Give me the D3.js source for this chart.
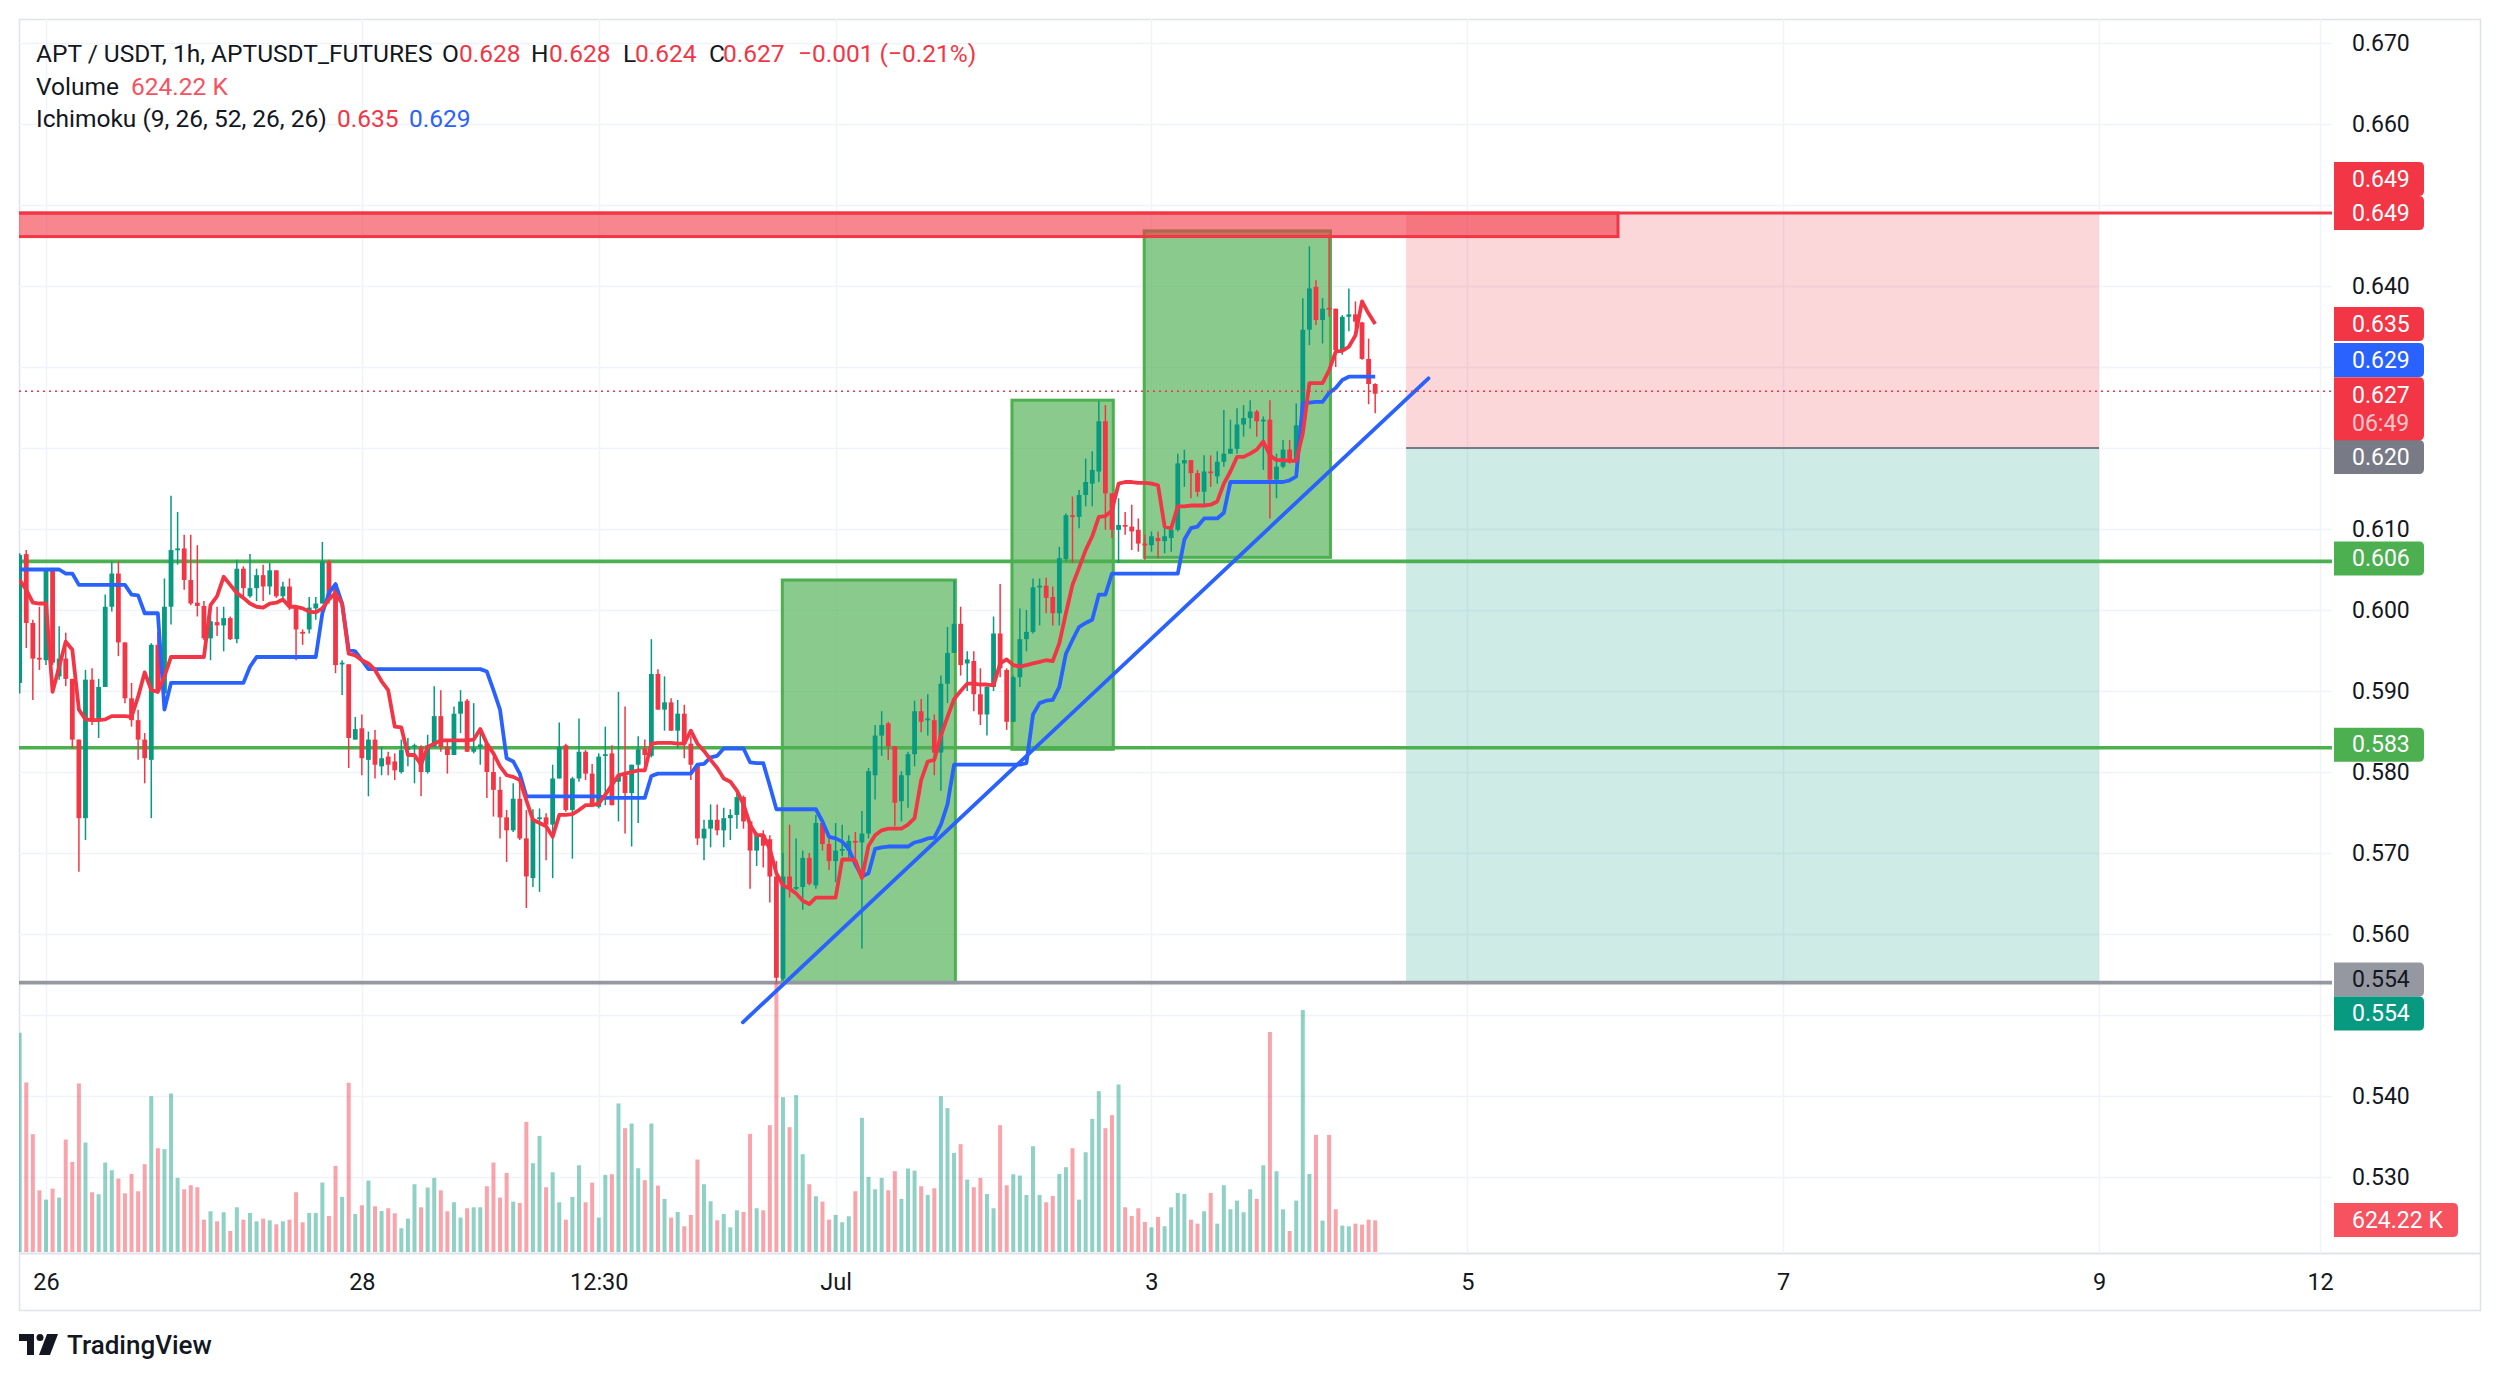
<!DOCTYPE html>
<html><head><meta charset="utf-8">
<script src="https://cdn.jsdelivr.net/npm/d3@7"></script>
<style>
body{margin:0;background:#fff}
svg{display:block}
text{font-family:Roboto,"Noto Sans",sans-serif}
</style>
</head><body>
<svg id="c" width="2500" height="1380"></svg>
<script>
// ---------------- DATA ----------------
// hourly bars, first bar = Jun 25 20:00 (hour -4 relative to Jun 26 00:00)
const firstBarHour = -4;
const opens = [
.5910,.6069,.5984,.5941,.5938,
.6051,.5918,.5940,.5915,.5840,.5743,.5914,.5864,.5905,.6004,
.6045,.5960,.5891,.5864,.5840,.5815,.5957,.5897,.6004,.6075,
.6076,.6037,.6009,.6005,.5965,.5985,.5981,.5990,.5964,.6051,
.6017,.6027,.6043,.6029,.6049,.6017,.6029,.6004,.5973,.5976,
.6002,.6008,.6060,.6032,.5933,.5933,.5840,.5854,.5815,.5840,
.5807,.5819,.5813,.5800,.5827,.5831,.5831,.5800,.5831,.5869,
.5831,.5821,.5872,.5888,.5825,.5831,.5835,.5800,.5778,.5744,
.5728,.5767,.5718,.5669,.5742,.5744,.5735,.5792,.5833,.5753,
.5792,.5825,.5798,.5757,.5821,.5823,.5788,.5796,.5774,.5809,
.5829,.5820,.5921,.5877,.5886,.5851,.5872,.5835,.5809,.5718,
.5730,.5741,.5728,.5743,.5747,.5769,.5739,.5703,.5722,.5717,
.5671,.5545,.5671,.5656,.5658,.5694,.5660,.5737,.5711,.5690,
.5703,.5703,.5715,.5713,.5724,.5796,.5845,.5860,.5832,.5764,
.5796,.5822,.5875,.5864,.5864,.5824,.5909,.5947,.5983,.5934,
.5937,.5896,.5871,.5905,.5971,.5926,.5862,.5917,.5964,.5973,
.6028,.6030,.6016,.5996,.6063,.6117,.6115,.6142,.6156,.6171,
.6233,.6144,.6099,.6105,.6103,.6099,.6082,.6080,.6089,.6085,
.6089,.6099,.6181,.6185,.6169,.6146,.6171,.6165,.6183,.6193,
.6199,.6229,.6237,.6245,.6233,.6235,.6161,.6177,.6198,.6185,
.6228,.6346,.6399,.6358,.6373,.6372,.6321,.6362,.6365,.6355,
.6310,.6279];
const highs = [
.6070,.6074,.5988,.6004,.6051,
.6052,.5980,.5972,.5915,.5840,.5926,.5928,.5915,.6019,.6060,
.6060,.5960,.5910,.5877,.5848,.5959,.5973,.6039,.6141,.6121,
.6093,.6093,.6080,.6011,.6002,.6004,.6004,.5992,.6062,.6054,
.6069,.6051,.6056,.6058,.6049,.6035,.6039,.6004,.5976,.6016,
.6016,.6084,.6062,.6033,.5938,.5933,.5868,.5871,.5850,.5852,
.5831,.5825,.5823,.5840,.5842,.5835,.5833,.5846,.5906,.5901,
.5840,.5881,.5901,.5890,.5885,.5854,.5835,.5819,.5794,.5753,
.5786,.5800,.5753,.5754,.5755,.5749,.5809,.5861,.5835,.5794,
.5866,.5827,.5810,.5823,.5856,.5833,.5899,.5881,.5809,.5844,
.5840,.5964,.5927,.5918,.5891,.5889,.5883,.5844,.5809,.5741,
.5760,.5760,.5756,.5754,.5777,.5771,.5739,.5726,.5728,.5722,
.5690,.5700,.5735,.5718,.5703,.5700,.5747,.5741,.5718,.5737,
.5735,.5722,.5726,.5752,.5805,.5858,.5875,.5862,.5832,.5801,
.5825,.5888,.5890,.5896,.5871,.5919,.5979,.6036,.6004,.5949,
.5949,.5928,.5909,.5992,.6032,.5928,.5919,.6002,.6000,.6039,
.6039,.6040,.6029,.6078,.6119,.6140,.6148,.6187,.6196,.6258,
.6253,.6144,.6138,.6121,.6130,.6113,.6093,.6097,.6097,.6109,
.6105,.6193,.6198,.6185,.6173,.6191,.6191,.6196,.6247,.6235,
.6249,.6253,.6259,.6247,.6239,.6259,.6193,.6210,.6210,.6255,
.6385,.6449,.6407,.6385,.6460,.6372,.6364,.6397,.6381,.6356,
.6335,.6280];
const lows = [
.5897,.5953,.5889,.5926,.5932,
.5932,.5914,.5906,.5829,.5677,.5716,.5858,.5842,.5905,.5998,
.5943,.5885,.5856,.5815,.5786,.5743,.5897,.5897,.5982,.6056,
.6025,.6006,.5992,.5963,.5938,.5968,.5949,.5963,.5959,.6017,
.6015,.6011,.6011,.6019,.6015,.6011,.6000,.5938,.5957,.5971,
.5988,.6008,.6008,.5922,.5895,.5805,.5840,.5796,.5770,.5792,
.5796,.5796,.5790,.5798,.5807,.5786,.5770,.5798,.5831,.5825,
.5798,.5821,.5848,.5825,.5823,.5809,.5768,.5745,.5718,.5689,
.5726,.5716,.5632,.5658,.5652,.5691,.5669,.5792,.5751,.5693,
.5788,.5790,.5757,.5755,.5759,.5759,.5739,.5724,.5708,.5737,
.5807,.5818,.5877,.5851,.5851,.5829,.5817,.5790,.5710,.5691,
.5707,.5722,.5707,.5716,.5730,.5730,.5656,.5684,.5682,.5639,
.5540,.5543,.5645,.5654,.5630,.5660,.5656,.5703,.5679,.5664,
.5696,.5692,.5692,.5582,.5718,.5766,.5820,.5815,.5733,.5739,
.5756,.5807,.5849,.5845,.5796,.5777,.5885,.5947,.5919,.5900,
.5875,.5858,.5845,.5900,.5917,.5852,.5862,.5905,.5949,.5971,
.5981,.5996,.5981,.5981,.6060,.6058,.6101,.6128,.6128,.6158,
.6099,.6089,.6058,.6093,.6074,.6072,.6062,.6072,.6064,.6070,
.6072,.6097,.6152,.6138,.6140,.6128,.6152,.6156,.6177,.6193,
.6193,.6214,.6224,.6214,.6173,.6113,.6138,.6175,.6181,.6181,
.6228,.6327,.6352,.6329,.6362,.6300,.6315,.6344,.6346,.6309,
.6254,.6243];
const closes = [
.6068,.5984,.5940,.5940,.6051,
.5935,.5940,.5915,.5840,.5743,.5914,.5862,.5905,.6004,.6045,
.5960,.5891,.5864,.5840,.5817,.5957,.5899,.6004,.6074,.6076,
.6037,.6008,.6005,.5965,.5986,.5981,.5990,.5964,.6051,.6027,
.6027,.6043,.6029,.6049,.6017,.6029,.6004,.5976,.5971,.6003,
.6008,.6060,.6013,.5932,.5935,.5842,.5853,.5817,.5840,.5809,
.5817,.5809,.5802,.5827,.5831,.5833,.5800,.5833,.5869,.5831,
.5821,.5872,.5887,.5825,.5829,.5834,.5800,.5778,.5744,.5728,
.5767,.5718,.5671,.5742,.5744,.5735,.5792,.5831,.5753,.5792,
.5825,.5798,.5760,.5819,.5822,.5759,.5795,.5774,.5809,.5828,
.5821,.5921,.5877,.5886,.5851,.5872,.5835,.5809,.5718,.5730,
.5741,.5728,.5743,.5747,.5769,.5739,.5703,.5722,.5709,.5671,
.5546,.5671,.5656,.5658,.5694,.5662,.5737,.5711,.5690,.5703,
.5705,.5715,.5713,.5724,.5801,.5845,.5858,.5832,.5762,.5796,
.5822,.5875,.5862,.5866,.5824,.5909,.5947,.5983,.5932,.5939,
.5896,.5871,.5905,.5971,.5928,.5862,.5917,.5964,.5973,.6028,
.6030,.6015,.5996,.6064,.6117,.6115,.6142,.6158,.6173,.6233,
.6144,.6099,.6105,.6103,.6097,.6082,.6080,.6091,.6085,.6091,
.6099,.6181,.6185,.6169,.6146,.6171,.6169,.6183,.6193,.6199,
.6229,.6237,.6245,.6233,.6235,.6161,.6177,.6198,.6185,.6228,
.6346,.6397,.6358,.6372,.6371,.6321,.6362,.6365,.6356,.6310,
.6279,.6267];
// volume, thousands
const volumes = [
4316,3338,2319,1215,1031,
1248,1071,2214,1774,3318,2155,1176,1137,1761,1610,
1445,1156,1537,1196,1728,3068,2043,2024,3121,1459,
1235,1314,1275,637,802,604,782,414,880,637,
769,604,657,624,545,604,637,1176,585,769,
769,1367,710,1695,1084,3331,749,920,1406,900,
808,861,762,466,657,1334,880,1268,1459,1215,
802,979,677,861,880,880,1294,1761,1071,1557,
992,966,2562,1748,2286,1275,1570,979,637,1084,
1708,979,1367,677,1518,1531,2924,2437,2529,1649,
1413,2529,1307,1045,677,788,506,729,1820,1334,
999,624,749,486,821,788,2326,861,821,2497,
5300,3048,2457,3088,1925,1334,1097,992,637,729,
585,703,1196,2641,1478,1235,1459,1215,1590,1045,
1643,1603,1294,1123,1255,3068,2832,1951,2122,1426,
1275,1459,1143,861,2497,1314,1531,1505,1123,2083,
1123,979,1104,1537,1669,2043,1031,1964,2621,3167,
2437,2694,3298,880,710,861,591,486,690,506,
880,1163,1143,637,558,802,1163,558,1314,841,
1012,782,1235,1045,1708,4330,1590,841,414,1012,
4763,1537,2306,618,2306,841,519,506,558,539,
637,624.22];
// Ichimoku conversion line (red)
const tenkan = [
.6037,.6025,.6009,.6008,.6008,
.5899,.5930,.5961,.5951,.5877,.5865,.5864,.5864,.5865,.5869,
.5869,.5869,.5868,.5893,.5923,.5901,.5899,.5918,.5942,.5942,
.5942,.5942,.5942,.5942,.6006,.6017,.6041,.6031,.6021,.6015,
.6008,.6004,.6003,.6008,.6009,.6013,.6004,.6004,.6002,.5998,
.5997,.6002,.6013,.6021,.6008,.5946,.5944,.5938,.5934,.5926,
.5912,.5901,.5856,.5855,.5821,.5821,.5809,.5831,.5835,.5839,
.5839,.5839,.5839,.5839,.5840,.5853,.5835,.5823,.5807,.5796,
.5794,.5790,.5765,.5741,.5737,.5733,.5720,.5747,.5747,.5748,
.5753,.5759,.5759,.5761,.5772,.5784,.5796,.5798,.5800,.5802,
.5802,.5835,.5836,.5836,.5836,.5835,.5835,.5851,.5835,.5826,
.5815,.5805,.5792,.5788,.5777,.5760,.5735,.5722,.5722,.5705,
.5675,.5660,.5656,.5650,.5641,.5637,.5645,.5645,.5645,.5645,
.5692,.5692,.5691,.5669,.5709,.5722,.5728,.5730,.5730,.5730,
.5735,.5743,.5790,.5813,.5815,.5845,.5868,.5890,.5900,.5909,
.5909,.5908,.5908,.5907,.5934,.5939,.5932,.5930,.5932,.5934,
.5936,.5938,.5937,.5959,.5996,.6031,.6052,.6074,.6091,.6115,
.6116,.6123,.6156,.6158,.6158,.6157,.6157,.6156,.6154,.6103,
.6101,.6128,.6128,.6129,.6129,.6129,.6130,.6134,.6156,.6171,
.6189,.6189,.6193,.6198,.6208,.6191,.6185,.6185,.6184,.6184,
.6218,.6280,.6280,.6280,.6296,.6319,.6320,.6325,.6339,.6381,
.6366,.6353];
// Ichimoku base line (blue)
const kijun = [
.6050,.6050,.6050,.6050,.6050,
.6050,.6050,.6045,.6045,.6031,.6031,.6031,.6031,.6031,.6031,
.6031,.6031,.6019,.6018,.5996,.5996,.5996,.5877,.5910,.5910,
.5910,.5910,.5910,.5910,.5910,.5910,.5910,.5910,.5910,.5910,
.5930,.5942,.5942,.5942,.5942,.5942,.5942,.5942,.5942,.5942,
.5942,.5996,.6021,.6032,.6008,.5951,.5949,.5938,.5927,.5927,
.5927,.5927,.5927,.5927,.5927,.5927,.5927,.5927,.5927,.5927,
.5927,.5927,.5927,.5927,.5927,.5927,.5924,.5901,.5877,.5817,
.5813,.5798,.5770,.5770,.5770,.5770,.5770,.5770,.5770,.5770,
.5770,.5770,.5770,.5770,.5768,.5768,.5768,.5768,.5768,.5768,
.5768,.5795,.5798,.5798,.5798,.5798,.5798,.5798,.5809,.5810,
.5818,.5820,.5829,.5829,.5829,.5829,.5812,.5811,.5811,.5783,
.5754,.5754,.5754,.5754,.5754,.5754,.5754,.5739,.5720,.5718,
.5714,.5705,.5686,.5671,.5675,.5705,.5707,.5708,.5708,.5708,
.5708,.5713,.5715,.5718,.5719,.5735,.5760,.5809,.5809,.5809,
.5809,.5809,.5809,.5809,.5809,.5809,.5809,.5809,.5811,.5871,
.5885,.5888,.5889,.5905,.5946,.5963,.5979,.5984,.5988,.6019,
.6019,.6045,.6045,.6045,.6045,.6045,.6045,.6045,.6045,.6045,
.6045,.6045,.6087,.6101,.6103,.6113,.6113,.6113,.6120,.6158,
.6158,.6158,.6158,.6158,.6158,.6158,.6158,.6158,.6160,.6165,
.6255,.6256,.6257,.6257,.6268,.6274,.6284,.6288,.6288,.6288,
.6288,.6288];

// axis ticks
const priceTicks = [0.670,0.660,0.640,0.610,0.600,0.590,0.580,0.570,0.560,0.540,0.530];
const gridPrices = [0.530,0.540,0.550,0.560,0.570,0.580,0.590,0.600,0.610,0.620,0.630,0.640,0.650,0.660,0.670];
const timeTickHours = [0, 48, 84, 120, 168, 216, 264, 312, 345.6];
const timeTickLabels = ["26","28","12:30","Jul","3","5","7","9","12"];

// drawings (hours relative to Jun 26 00:00, prices)
const levelPrices = {resistance:0.649, bandLow:0.6461, upper:0.606, lower:0.583, base:0.554, last:0.627};
const bandEndHour = 238.9;
const greenBoxes = [
  {h0:111.9, h1:138.2, p0:0.554, p1:0.6037},
  {h0:146.8, h1:162.2, p0:0.5828, p1:0.6259},
  {h0:166.9, h1:195.2, p0:0.6065, p1:0.6468}
];
const position = {h0:206.7, h1:312, stop:0.649, entry:0.620, target:0.554};
const trend = [{h:105.9, p:0.5491},{h:210.1, p:0.6286}];

// ---------------- RENDER ----------------
const BASE = Date.UTC(2024,5,26);
const hourDate = h => new Date(BASE + h*3600e3);
const svg = d3.select("#c");
const PL=19, PR=2332, PT=19, PB=1253, AR=2480, TB=1310;
const x = d3.scaleTime().domain([hourDate(0), hourDate(312)]).range([46, 2099]);
const y = d3.scaleLinear().domain([0.53, 0.67]).range([1177, 43]);
const yVol = d3.scaleLinear().domain([0, 1000]).range([1252, 1252-50.8]);

const bars = opens.map((o,i)=>({date:hourDate(firstBarHour+i), o, h:highs[i], l:lows[i], c:closes[i], v:volumes[i], tk:tenkan[i], kj:kijun[i]}));

svg.append("defs").append("clipPath").attr("id","plot").append("rect")
  .attr("x",PL).attr("y",PT).attr("width",PR-PL).attr("height",PB-PT);

// frame
svg.append("rect").attr("x",PL+0.5).attr("y",PT+0.5).attr("width",AR-PL).attr("height",TB-PT)
  .attr("fill","none").attr("stroke","#e0e3eb").attr("stroke-width",1.5);
svg.append("line").attr("x1",PL).attr("x2",AR).attr("y1",PB+0.5).attr("y2",PB+0.5).attr("stroke","#e0e3eb").attr("stroke-width",2);

const plot = svg.append("g").attr("clip-path","url(#plot)");

// grid
plot.append("g").selectAll("line").data(gridPrices).join("line")
  .attr("x1",PL).attr("x2",PR).attr("y1",d=>Math.round(y(d))+0.5).attr("y2",d=>Math.round(y(d))+0.5)
  .attr("stroke","#f0f3fa").attr("stroke-width",1.5);
plot.append("g").selectAll("line").data(timeTickHours).join("line")
  .attr("x1",d=>Math.round(x(hourDate(d)))+0.5).attr("x2",d=>Math.round(x(hourDate(d)))+0.5)
  .attr("y1",PT).attr("y2",PB).attr("stroke","#f0f3fa").attr("stroke-width",1.5);

// position tool
const px0 = x(hourDate(position.h0)), px1 = x(hourDate(position.h1));
plot.append("rect").attr("x",px0).attr("width",px1-px0).attr("y",y(position.stop)).attr("height",y(position.entry)-y(position.stop))
  .attr("fill","rgba(242,54,69,0.2)");
plot.append("rect").attr("x",px0).attr("width",px1-px0).attr("y",y(position.entry)).attr("height",y(position.target)-y(position.entry))
  .attr("fill","rgba(8,153,129,0.2)");
plot.append("line").attr("x1",px0).attr("x2",px1).attr("y1",y(position.entry)).attr("y2",y(position.entry))
  .attr("stroke","#787b86").attr("stroke-width",2);

// green boxes
plot.append("g").selectAll("rect").data(greenBoxes).join("rect")
  .attr("x",d=>x(hourDate(d.h0))).attr("width",d=>x(hourDate(d.h1))-x(hourDate(d.h0)))
  .attr("y",d=>y(d.p1)).attr("height",d=>y(d.p0)-y(d.p1))
  .attr("fill","rgba(76,175,80,0.65)").attr("stroke","#4caf50").attr("stroke-width",3);

// red resistance band
const bx1 = x(hourDate(bandEndHour));
plot.append("rect").attr("x",PL-5).attr("width",bx1-PL+5).attr("y",y(levelPrices.resistance)).attr("height",y(levelPrices.bandLow)-y(levelPrices.resistance))
  .attr("fill","rgba(242,54,69,0.6)").attr("stroke","#f23645").attr("stroke-width",3);
plot.append("line").attr("x1",PL).attr("x2",PR).attr("y1",y(levelPrices.resistance)).attr("y2",y(levelPrices.resistance))
  .attr("stroke","#f23645").attr("stroke-width",3);

// horizontal levels
[[levelPrices.upper,"#4caf50"],[levelPrices.lower,"#4caf50"],[levelPrices.base,"#9598a1"]].forEach(([p,c])=>{
  plot.append("line").attr("x1",PL).attr("x2",PR).attr("y1",y(p)).attr("y2",y(p)).attr("stroke",c).attr("stroke-width",3.6);
});

// volume
plot.append("g").selectAll("rect").data(bars).join("rect")
  .attr("x",d=>x(d.date)-2).attr("width",4)
  .attr("y",d=>yVol(d.v)).attr("height",d=>1252-yVol(d.v))
  .attr("fill",d=>d.c>=d.o?"rgba(8,153,129,0.45)":"rgba(242,54,69,0.45)");

// candles
const cg = plot.append("g");
cg.selectAll("line").data(bars).join("line")
  .attr("x1",d=>x(d.date)).attr("x2",d=>x(d.date)).attr("y1",d=>y(d.h)).attr("y2",d=>y(d.l))
  .attr("stroke",d=>d.c>=d.o?"#089981":"#f23645").attr("stroke-width",1.5);
cg.selectAll("rect").data(bars).join("rect")
  .attr("x",d=>x(d.date)-2.4).attr("width",4.8)
  .attr("y",d=>y(Math.max(d.o,d.c))).attr("height",d=>Math.max(1.8,Math.abs(y(d.o)-y(d.c))))
  .attr("fill",d=>d.c>=d.o?"#089981":"#f23645");

// ichimoku
plot.append("path").datum(bars).attr("fill","none").attr("stroke","#2962ff").attr("stroke-width",3.8).attr("stroke-linejoin","round")
  .attr("d",d3.line().x(d=>x(d.date)).y(d=>y(d.kj)));
plot.append("path").datum(bars).attr("fill","none").attr("stroke","#f23645").attr("stroke-width",3.8).attr("stroke-linejoin","round")
  .attr("d",d3.line().x(d=>x(d.date)).y(d=>y(d.tk)));

// trend line
plot.append("line").attr("x1",x(hourDate(trend[0].h))).attr("y1",y(trend[0].p)).attr("x2",x(hourDate(trend[1].h))).attr("y2",y(trend[1].p))
  .attr("stroke","#2962ff").attr("stroke-width",3.8).attr("stroke-linecap","round");

// last price dotted line
plot.append("line").attr("x1",PL).attr("x2",PR).attr("y1",y(levelPrices.last)).attr("y2",y(levelPrices.last))
  .attr("stroke","#f23645").attr("stroke-width",1.6).attr("stroke-dasharray","2 4");

// price axis
const pa = svg.append("g").attr("transform","translate(2352,0)")
  .call(d3.axisRight(y).tickValues(priceTicks).tickFormat(d3.format(".3f")).tickSize(0).tickPadding(0));
pa.select(".domain").remove();
pa.selectAll("text").attr("font-size",23).attr("fill","#131722").attr("font-family","Roboto").attr("dy",null).attr("dominant-baseline","central");

// time axis
const ta = svg.append("g").attr("transform","translate(0,1282)")
  .call(d3.axisBottom(x).tickValues(timeTickHours.map(hourDate)).tickFormat((d,i)=>timeTickLabels[i]).tickSize(0).tickPadding(0));
ta.select(".domain").remove();
ta.selectAll("text").attr("font-size",23.5).attr("fill","#131722").attr("font-family","Roboto").attr("dy",null).attr("dominant-baseline","central");

// price labels on axis
function tag(yTop, h, fill, w){
  const x0=2334, x1=x0+(w||90), r=5;
  svg.append("path").attr("d",`M${x0},${yTop}H${x1-r}Q${x1},${yTop} ${x1},${yTop+r}V${yTop+h-r}Q${x1},${yTop+h} ${x1-r},${yTop+h}H${x0}Z`).attr("fill",fill);
}
function tagText(t, yc, col){
  svg.append("text").attr("x",2352).attr("y",yc).attr("dominant-baseline","central").attr("font-size",23).attr("fill",col).text(t);
}
const tags = [
  {p:0.649, t:"0.649", fill:"#f23645", col:"#fff", dy:-34},
  {p:0.649, t:"0.649", fill:"#f23645", col:"#fff", dy:0},
  {p:0.635, t:"0.635", fill:"#f23645", col:"#fff", dy:-2.5},
  {p:0.629, t:"0.629", fill:"#2962ff", col:"#fff", dy:-15},
  {p:0.620, t:"0.620", fill:"#787b86", col:"#fff", dy:9},
  {p:0.606, t:"0.606", fill:"#4caf50", col:"#fff", dy:-3},
  {p:0.583, t:"0.583", fill:"#4caf50", col:"#fff", dy:-3},
  {p:0.554, t:"0.554", fill:"#9598a1", col:"#131722", dy:-3},
  {p:0.554, t:"0.554", fill:"#089981", col:"#fff", dy:31}
];
tags.forEach(d=>{ const yc=y(d.p)+d.dy; tag(yc-17,34,d.fill); tagText(d.t,yc,d.col); });
// last price tag with countdown
{ const yt = y(levelPrices.last)-14; tag(yt,63,"#f23645"); tagText("0.627",yt+18,"#fff"); tagText("06:49",yt+46,"rgba(255,255,255,0.72)"); }
// volume tag
{ const yc = 1220; tag(yc-17,34,"#f7525f",124); tagText("624.22 K",yc,"#fff"); }

// legend
function txt(s,xx,yy,col){ svg.append("text").attr("x",xx).attr("y",yy).attr("dominant-baseline","central").attr("font-size",24.5).attr("fill",col).text(s); }
const dark="#131722", red="#f23645";
txt("APT / USDT, 1h, APTUSDT_FUTURES",36,53,dark);
txt("O",442,53,dark); txt("0.628",459,53,red);
txt("H",531,53,dark); txt("0.628",549,53,red);
txt("L",623,53,dark); txt("0.624",635,53,red);
txt("C",709,53,dark); txt("0.627",723,53,red);
txt("\u22120.001 (\u22120.21%)",798,53,red);
txt("Volume",36,86,dark); txt("624.22 K",131,86,"#f7525f");
txt("Ichimoku (9, 26, 52, 26, 26)",36,118,dark); txt("0.635",337,118,red); txt("0.629",409,118,"#2962ff");

// TradingView logo
const lg = svg.append("g").attr("transform","translate(19,1334)");
lg.append("path").attr("d","M0 0H15V21H8V7H0Z").attr("fill","#131722");
lg.append("circle").attr("cx",21).attr("cy",3.5).attr("r",3.5).attr("fill","#131722");
lg.append("path").attr("d","M28 0H39L31 21H20Z").attr("fill","#131722");
svg.append("text").attr("x",67).attr("y",1345).attr("dominant-baseline","central").attr("font-size",26).attr("font-weight",500).attr("fill","#131722").text("TradingView");
</script>
</body></html>
